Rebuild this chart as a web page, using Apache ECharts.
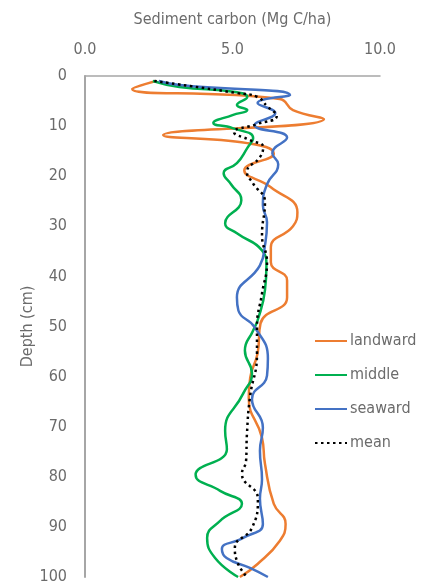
<!DOCTYPE html>
<html>
<head>
<meta charset="utf-8">
<script src="https://cdn.jsdelivr.net/npm/echarts@6/dist/echarts.min.js"></script>
<style>
  html, body { margin: 0; padding: 0; background: #fff; }
  #chart { width: 427px; height: 587px; }
</style>
</head>
<body>
<div id="chart"></div>
<script>
// Sediment carbon profiles by depth for three transect positions plus their mean
const seriesNames = ['landward', 'middle', 'seaward', 'mean'];

const landwardDepth = [1, 2.6, 4.6, 6.8, 8.6, 11.8, 13.4, 15.5, 18.8, 22.2, 27.2, 30, 34.2, 37.2, 40.8, 44.2, 49.4, 55.4, 60.2, 64.2, 72.2, 77.4, 85.4, 89.4, 92.8, 97.4, 100];
const landwardC     = [2.4, 1.6, 6.6, 7.05, 8.1, 2.65, 5.5, 6.4, 5.4, 6.3, 7.2, 7.05, 6.3, 6.3, 6.85, 6.85, 5.95, 5.85, 5.6, 5.55, 6.0, 6.1, 6.4, 6.8, 6.6, 5.85, 5.25];

const middleDepth = [1, 2.2, 3.2, 4.2, 5.8, 6.8, 7.8, 9.4, 10.4, 12.4, 14.4, 17.4, 19.4, 21.6, 24.8, 29.4, 31.4, 34.8, 37.8, 42.8, 48.8, 50.8, 54.8, 59.4, 63.4, 70.8, 74.5, 79.6, 82.8, 85.4, 88.8, 92.2, 96.2, 100];
const middleC     = [2.3, 3.2, 5.1, 5.5, 5.15, 5.5, 5.0, 4.35, 5.0, 5.7, 5.5, 5.15, 4.7, 4.95, 5.3, 4.75, 5.15, 6.0, 6.15, 6.1, 5.85, 5.7, 5.42, 5.66, 5.36, 4.75, 4.81, 3.75, 4.58, 5.32, 4.58, 4.14, 4.41, 5.19];

const seawardDepth = [1, 1.8, 3.8, 5.4, 7.4, 9.8, 12.3, 15.4, 17.6, 21.6, 25.8, 29.2, 33.8, 37.8, 44.2, 46.8, 50.2, 56.4, 59.8, 64.5, 70.2, 74.8, 80.5, 84.4, 89.4, 92.2, 94.4, 96.2, 98.2, 100];
const seawardC     = [2.5, 3.2, 6.95, 5.85, 6.45, 5.75, 6.85, 6.35, 6.55, 6.17, 6.03, 6.17, 6.1, 5.93, 5.15, 5.2, 5.76, 6.2, 6.17, 5.66, 6.03, 5.93, 6.0, 5.93, 6.03, 5.36, 4.64, 4.8, 5.59, 6.2];

const meanDepth = [1, 3.4, 4.2, 6, 8, 9.6, 11.2, 12.8, 14.2, 16.2, 19.2, 21.4, 25.2, 31.8, 37.2, 43.4, 50.2, 55.4, 64.2, 71.4, 76.8, 79.4, 84.4, 90.2, 94.2, 96.8, 100];
const meanC     = [2.35, 5.15, 5.85, 6.17, 6.5, 5.83, 5.05, 5.59, 6.04, 5.93, 5.49, 5.69, 6.1, 6.0, 6.17, 6.0, 5.83, 5.83, 5.59, 5.49, 5.46, 5.32, 5.86, 5.66, 5.08, 5.15, 5.49];

const carbonTicks = [0, 5, 10];
const depthTicks = [0, 10, 20, 30, 40, 50, 60, 70, 80, 90, 100];

const FONT = "'Liberation Sans Narrow', 'DejaVu Sans Condensed', 'Roboto', sans-serif";
const TEXT = '#6b6b6b';

function profile(depths, values) {
  return depths.map((d, i) => [values[i], d]);
}

const chart = echarts.init(document.getElementById('chart'), null, { renderer: 'canvas' });

const option = {
  animation: false,
  backgroundColor: '#fff',
  textStyle: { fontFamily: FONT },
  grid: { left: 85, right: 47, top: 76, bottom: 10, containLabel: false },
  legend: {
    orient: 'vertical',
    left: 309,
    top: 328,
    itemWidth: 32,
    itemHeight: 12,
    itemGap: 18,
    itemStyle: { opacity: 0 },
    textStyle: { fontFamily: FONT, fontSize: 16, color: TEXT, padding: [0, 0, 0, -2] },
    data: seriesNames
  },
  xAxis: {
    type: 'value',
    position: 'top',
    min: carbonTicks[0],
    max: carbonTicks[carbonTicks.length - 1],
    interval: carbonTicks[1] - carbonTicks[0],
    name: 'Sediment carbon (Mg C/ha)',
    nameLocation: 'middle',
    nameGap: 48,
    nameMoveOverlap: false,
    nameTextStyle: { fontFamily: FONT, fontSize: 16, color: TEXT },
    axisLine: { show: true, lineStyle: { color: '#a6a6a6', width: 1.5 } },
    axisTick: { show: false },
    splitLine: { show: false },
    axisLabel: {
      fontFamily: FONT, fontSize: 16, color: TEXT, margin: 18,
      formatter: v => v.toFixed(1)
    }
  },
  yAxis: {
    type: 'value',
    inverse: true,
    min: depthTicks[0],
    max: depthTicks[depthTicks.length - 1],
    interval: depthTicks[1] - depthTicks[0],
    name: 'Depth (cm)',
    nameLocation: 'middle',
    nameGap: 49,
    nameMoveOverlap: false,
    nameTextStyle: { fontFamily: FONT, fontSize: 16, color: TEXT },
    axisLine: { show: true, lineStyle: { color: '#a6a6a6', width: 2 } },
    axisTick: { show: false },
    splitLine: { show: false },
    axisLabel: { fontFamily: FONT, fontSize: 16, color: TEXT, margin: 18 }
  },
  series: [
    {
      name: 'landward', type: 'line', smooth: 0.5, showSymbol: false, symbol: 'none',
      lineStyle: { color: '#ED7D31', width: 2.5 }, itemStyle: { color: '#ED7D31' },
      data: profile(landwardDepth, landwardC), z: 2
    },
    {
      name: 'middle', type: 'line', smooth: 0.5, showSymbol: false, symbol: 'none',
      lineStyle: { color: '#00B050', width: 2.5 }, itemStyle: { color: '#00B050' },
      data: profile(middleDepth, middleC), z: 3
    },
    {
      name: 'seaward', type: 'line', smooth: 0.5, showSymbol: false, symbol: 'none',
      lineStyle: { color: '#4472C4', width: 2.5 }, itemStyle: { color: '#4472C4' },
      data: profile(seawardDepth, seawardC), z: 4
    },
    {
      name: 'mean', type: 'line', smooth: 0.5, showSymbol: false, symbol: 'none',
      lineStyle: { color: '#000', width: 2.5, type: [2.5, 3.5] }, itemStyle: { color: '#000' },
      data: profile(meanDepth, meanC), z: 5
    }
  ]
};

chart.setOption(option);
</script>
</body>
</html>
